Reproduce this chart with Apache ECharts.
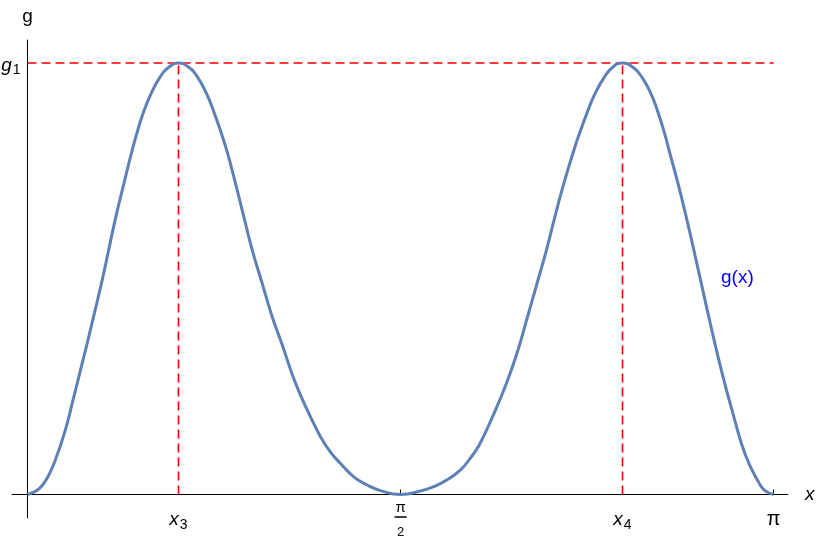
<!DOCTYPE html>
<html>
<head>
<meta charset="utf-8">
<script src="https://cdn.jsdelivr.net/npm/echarts@6/dist/echarts.min.js"></script>
<style>
html,body{margin:0;padding:0;background:#fff;}
#c{width:817px;height:540px;}
</style>
</head>
<body>
<div id="c"></div>
<script>
// x values (radians)
const xValues = [
  0, 0.0408, 0.0686, 0.0968, 0.1251, 0.1461, 0.1672, 0.1882, 0.2189, 0.2514, 0.2821, 0.3145, 0.3423, 0.3705,
  0.4055, 0.4408, 0.4611, 0.4821, 0.5179, 0.56, 0.5992, 0.6358,
  0.6745, 0.7141, 0.7562, 0.7916, 0.8156, 0.8408, 0.8758, 0.9107, 0.9461, 0.9882, 1.0303, 1.0724, 1.1284,
  1.1916, 1.2337, 1.2758, 1.3179, 1.3739, 1.4303, 1.4863, 1.5708,
  1.6547, 1.7107, 1.767, 1.8232, 1.8653, 1.9002, 1.9579, 2.0168, 2.0653, 2.1053, 2.1453, 2.1853, 2.2189,
  2.2547, 2.2989, 2.3263, 2.3537, 2.3861, 2.4295, 2.4674, 2.5053,
  2.5495, 2.5882, 2.6274, 2.6581, 2.6834, 2.7002, 2.7495, 2.8055, 2.8619, 2.9179, 2.9741, 3.0232, 3.08, 3.1053, 3.1416
];
// g(x) values, relative to g1 = 1
const gValues = [
  0, 0.010, 0.026, 0.053, 0.092, 0.126, 0.165, 0.211, 0.279, 0.351, 0.421, 0.497, 0.568, 0.640,
  0.720, 0.798, 0.838, 0.876, 0.926, 0.969, 0.992, 1.0,
  0.992, 0.969, 0.926, 0.876, 0.838, 0.794, 0.721, 0.644, 0.567, 0.489, 0.412, 0.347, 0.258,
  0.180, 0.134, 0.098, 0.072, 0.041, 0.022, 0.009, 0,
  0.008, 0.018, 0.034, 0.057, 0.085, 0.113, 0.180, 0.258, 0.335, 0.412, 0.489, 0.567, 0.640,
  0.714, 0.795, 0.840, 0.881, 0.925, 0.968, 0.992, 1.0,
  0.990, 0.966, 0.926, 0.880, 0.835, 0.800, 0.698, 0.567, 0.428, 0.296, 0.180, 0.091, 0.027, 0.009, 0
];
const xTickValues = [0.6358, 1.5708, 2.5053, 3.1416];
const xTickLabels = ['{i|x}{s|3}', '{n|π}\n{b|}\n{d|2}', '{i|x}{s|4}', '{p|π}'];
const xTickMarks = [1.5708, 3.1416];
const peakX = [0.6358, 2.5053];
const g1 = 1;
const yTickValues = [1];
const yTickLabels = ['{i|g}{s|1}'];

const FONT = "'Liberation Sans', Arial, Helvetica, sans-serif";
const RED = '#ff0000';
const chart = echarts.init(document.getElementById('c'), null, {renderer: 'canvas'});

function nearestLabel(v, vals, labels) {
  v = Number(v);
  let best = 0;
  for (let k = 1; k < vals.length; k++) if (Math.abs(vals[k] - v) < Math.abs(vals[best] - v)) best = k;
  return labels[best];
}

function dashSeries(points, zz) {
  return {
    type: 'line', data: points, symbol: 'none', silent: true,
    color: RED,
    itemStyle: {color: RED},
    lineStyle: {color: RED, type: [9, 5], width: 1.6, opacity: 1},
    emphasis: {disabled: true},
    z: zz, animation: false
  };
}

chart.setOption({
  animation: false,
  backgroundColor: '#fff',
  grid: {left: 12, right: 29, top: 40, bottom: 22, containLabel: false, outerBoundsMode: 'none'},
  xAxis: {
    type: 'value',
    min: -0.06526,
    max: 3.2021,
    position: 'bottom',
    offset: -23.5,
    name: 'x',
    nameLocation: 'end',
    nameGap: 17,
    nameTextStyle: {fontSize: 19, fontStyle: 'italic', fontFamily: FONT, color: '#000', verticalAlign: 'middle'},
    axisLine: {show: true, onZero: false, lineStyle: {color: '#000', width: 1}},
    axisTick: {show: true, inside: true, length: 5, customValues: xTickMarks, lineStyle: {color: '#000', width: 1}},
    axisLabel: {
      show: true,
      margin: 8,
      customValues: xTickValues,
      formatter: v => nearestLabel(v, xTickValues, xTickLabels),
      rich: {
        i: {fontSize: 19, fontStyle: 'italic', fontFamily: FONT, color: '#000', lineHeight: 35},
        s: {fontSize: 14, fontFamily: FONT, color: '#000', lineHeight: 14, padding: [10, 0, 0, 1]},
        p: {fontSize: 20, fontFamily: FONT, color: '#000', lineHeight: 33},
        n: {fontSize: 15, fontFamily: FONT, color: '#000', lineHeight: 10},
        b: {width: 12, height: 0, lineHeight: 9, borderColor: '#000', borderWidth: 1},
        d: {fontSize: 13, fontFamily: FONT, color: '#000', lineHeight: 22}
      }
    },
    splitLine: {show: false}
  },
  yAxis: {
    type: 'value',
    min: -0.05446,
    max: 1.0533,
    position: 'left',
    offset: -15.5,
    name: 'g',
    nameLocation: 'end',
    nameGap: 14,
    nameTextStyle: {fontSize: 19, fontFamily: FONT, color: '#000'},
    axisLine: {show: true, onZero: false, lineStyle: {color: '#000', width: 1}},
    axisTick: {show: false},
    axisLabel: {
      show: true,
      margin: 7,
      padding: [6, 0, 0, 0],
      customValues: yTickValues,
      formatter: v => nearestLabel(v, yTickValues, yTickLabels),
      rich: {
        i: {fontSize: 19, fontStyle: 'italic', fontFamily: FONT, color: '#000', lineHeight: 24},
        s: {fontSize: 14, fontFamily: FONT, color: '#000', lineHeight: 14, padding: [9, 0, 0, 1]}
      }
    },
    splitLine: {show: false}
  },
  series: [
    dashSeries([[peakX[0], 0], [peakX[0], g1]], 1),
    dashSeries([[peakX[1], 0], [peakX[1], g1]], 1),
    dashSeries([[0, g1], [Math.PI, g1]], 2),
    {
      type: 'line',
      name: 'g(x)',
      data: xValues.map((x, k) => [x, gValues[k]]),
      smooth: 0.5,
      symbol: 'none',
      color: '#5E81B5',
      lineStyle: {color: '#5E81B5', width: 3},
      itemStyle: {color: '#5E81B5'},
      z: 3
    }
  ],
  graphic: [{
    type: 'text',
    left: 721,
    top: 268,
    style: {text: 'g(x)', fontSize: 19, fontFamily: FONT, fill: '#0000ff'}
  }]
});
</script>
</body>
</html>
